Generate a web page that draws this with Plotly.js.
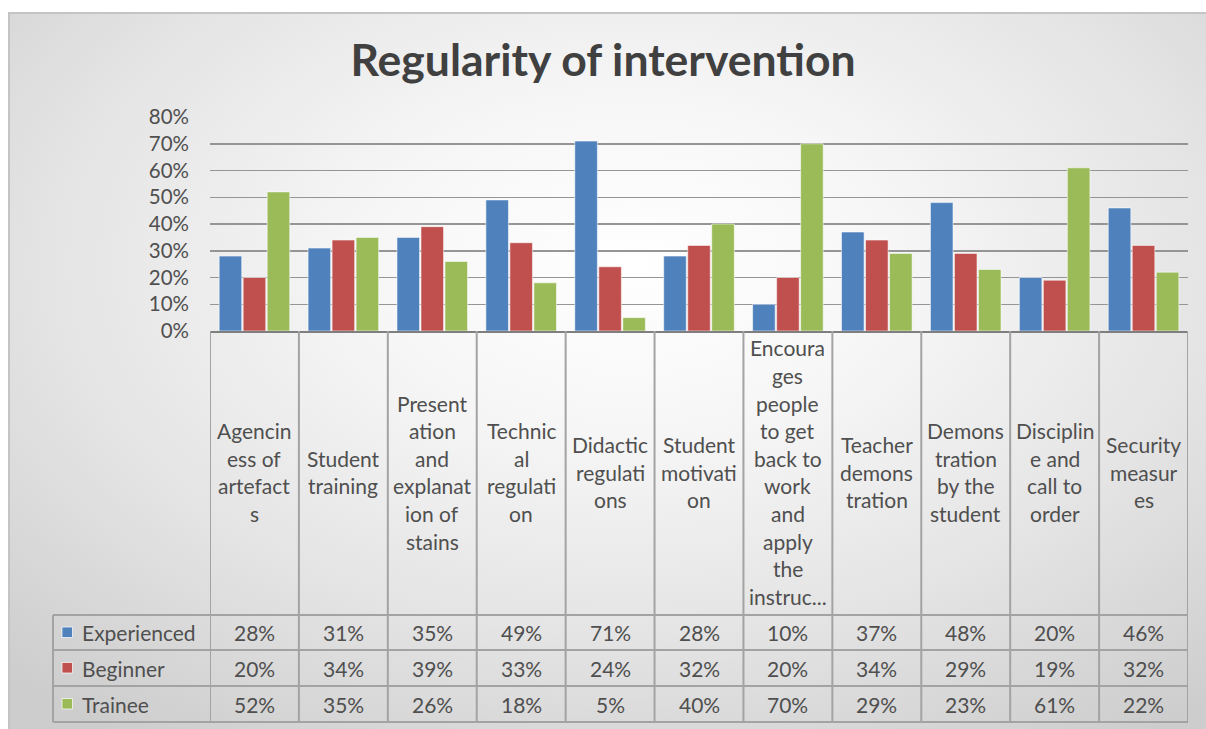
<!DOCTYPE html>
<html>
<head>
<meta charset="utf-8">
<script src="https://cdn.plot.ly/plotly-3.0.1.min.js"></script>
<style>
html,body{margin:0;padding:0;background:#ffffff;}
#bg{position:absolute;left:8px;top:12px;width:1198px;height:717px;
 border-top:2px solid #c4c4c4;border-left:2px solid #c4c4c4;box-sizing:border-box;
 background:radial-gradient(ellipse 75% 80% at 52% 35%, #ffffff 0%, #f6f6f6 30%, #e4e4e4 65%, #cdcdcd 100%);}
#chart{position:absolute;left:0;top:0;width:1206px;height:729px;}
</style>
</head>
<body>
<div id="bg"></div>
<div id="chart"></div>
<script>
// ---- data ----
const categories = [
  "Agencin<br>ess of<br>artefact<br>s",
  "Student<br>training",
  "Present<br>ation<br>and<br>explanat<br>ion of<br>stains",
  "Technic<br>al<br>regulati<br>on",
  "Didactic<br>regulati<br>ons",
  "Student<br>motivati<br>on",
  "Encoura<br>ges<br>people<br>to get<br>back to<br>work<br>and<br>apply<br>the<br>instruc...",
  "Teacher<br>demons<br>tration",
  "Demons<br>tration<br>by the<br>student",
  "Disciplin<br>e and<br>call to<br>order",
  "Security<br>measur<br>es"
];
const seriesNames = ["Experienced", "Beginner", "Trainee"];
const experienced = [0.28, 0.31, 0.35, 0.49, 0.71, 0.28, 0.10, 0.37, 0.48, 0.20, 0.46];
const beginner    = [0.20, 0.34, 0.39, 0.33, 0.24, 0.32, 0.20, 0.34, 0.29, 0.19, 0.32];
const trainee     = [0.52, 0.35, 0.26, 0.18, 0.05, 0.40, 0.70, 0.29, 0.23, 0.61, 0.22];
const seriesValues = [experienced, beginner, trainee];
const colors = ["#4F81BD", "#C0504D", "#9BBB59"];
const yTickVals = [0, 0.1, 0.2, 0.3, 0.4, 0.5, 0.6, 0.7, 0.8];
const yTickText = ["0%", "10%", "20%", "30%", "40%", "50%", "60%", "70%", "80%"];

// ---- geometry helpers (pixel -> paper) ----
const W = 1206, H = 729;
const L = 210, R = 1188, T = 117, B = 331;
const px = p => (p - L) / (R - L);
const py = p => (B - p) / (B - T);

const idx = categories.map((_, i) => i);
const font = "Lato, 'Open Sans', sans-serif";
const txtColor = "#4f4f4f";
const lineCol = "#a3a3a3";
const fs = 21;

const traces = seriesValues.map((vals, s) => ({
  type: "bar",
  name: seriesNames[s],
  x: idx,
  y: vals,
  marker: {color: colors[s], line: {color: "rgba(255,255,255,0.55)", width: 1}},
  hoverinfo: "skip"
}));

const shapes = [];
const annotations = [];

const cellTop = 331, tableTop = 615, rowLines = [615, 650, 686, 722], tableLeft = 53;
for (let i = 0; i <= categories.length; i++) {
  shapes.push({type: "line", xref: "x", yref: "paper", x0: i - 0.5, x1: i - 0.5,
    y0: py(cellTop), y1: py(rowLines[3]), line: {color: lineCol, width: 2}, layer: "above"});
}
shapes.push({type: "line", xref: "paper", yref: "paper", x0: px(tableLeft), x1: px(tableLeft),
  y0: py(tableTop), y1: py(rowLines[3]), line: {color: lineCol, width: 2}});
rowLines.forEach(yy => {
  shapes.push({type: "line", xref: "paper", yref: "paper", x0: px(tableLeft), x1: 1,
    y0: py(yy), y1: py(yy), line: {color: lineCol, width: 2}});
});

const lineH = 27.6, cellMid = 472;
categories.forEach((c, i) => {
  const lines = c.split("<br>");
  const n = lines.length;
  lines.forEach((ln, k) => {
    const yc = cellMid + (k - (n - 1) / 2) * lineH;
    annotations.push({xref: "x", yref: "paper", x: i, y: py(yc), text: ln, showarrow: false,
      xanchor: "center", yanchor: "middle", font: {family: font, size: fs, color: txtColor}});
  });
});

const rowMid = [632.5, 668, 704];
seriesValues.forEach((vals, s) => {
  const yc = rowMid[s];
  shapes.push({type: "rect", xref: "paper", yref: "paper", x0: px(62), x1: px(72.5),
    y0: py(yc - 5.5), y1: py(yc + 5), fillcolor: colors[s], line: {color: "rgba(255,255,255,0.7)", width: 1}});
  annotations.push({xref: "paper", yref: "paper", x: px(80), y: py(yc), text: seriesNames[s],
    showarrow: false, xanchor: "left", yanchor: "middle", font: {family: font, size: fs, color: txtColor}});
  vals.forEach((v, i) => {
    annotations.push({xref: "x", yref: "paper", x: i, y: py(yc), text: Math.round(v * 100) + "%",
      showarrow: false, xanchor: "center", yanchor: "middle", font: {family: font, size: fs, color: txtColor}});
  });
});

const layout = {
  width: W, height: H,
  margin: {l: L, r: W - R, t: T, b: H - B, pad: 0},
  paper_bgcolor: "rgba(0,0,0,0)",
  plot_bgcolor: "rgba(0,0,0,0)",
  title: {text: "<b>Regularity of intervention</b>", x: 0.5, xanchor: "center", y: 1 - 60 / H, yanchor: "middle",
    font: {family: font, size: 44.5, color: "#404040"}},
  showlegend: false,
  barmode: "group",
  bargap: 0.19,
  bargroupgap: 0.06,
  xaxis: {range: [-0.5, categories.length - 0.5], showticklabels: false, ticks: "", showgrid: false,
    zeroline: false, showline: true, linecolor: "#7f7f7f", linewidth: 2, fixedrange: true},
  yaxis: {range: [0, 0.8], tickvals: yTickVals, ticktext: yTickText, showgrid: true,
    gridcolor: "#959595", gridwidth: 1.5, zeroline: false, showline: false, ticks: "",
    ticklabelstandoff: 20, tickfont: {family: font, size: 20.5, color: txtColor}, fixedrange: true},
  shapes: shapes,
  annotations: annotations
};

Plotly.newPlot("chart", traces, layout, {displayModeBar: false, staticPlot: true});
</script>
</body>
</html>
